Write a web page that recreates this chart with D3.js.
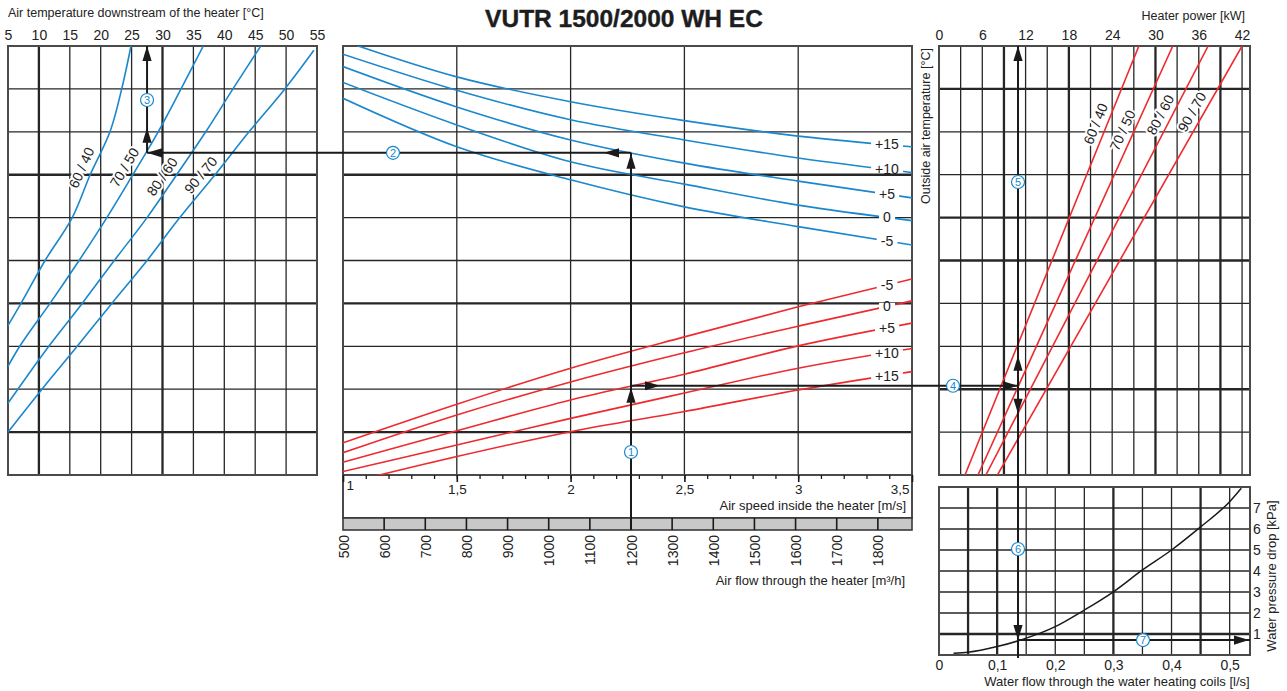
<!DOCTYPE html>
<html><head><meta charset="utf-8">
<script src="https://cdn.jsdelivr.net/npm/d3@7"></script>
<style>
body{margin:0;background:#fff;}
svg{display:block;font-family:"Liberation Sans",Arial,Helvetica,sans-serif;}
</style></head><body>
<svg id="c" width="1287" height="691"></svg>
<script>
// ================= DATA =================
const chartTitle = "VUTR 1500/2000 WH EC";
const outletTempTicks = [5,10,15,20,25,30,35,40,45,50,55];
const powerTicks = [0,6,12,18,24,30,36,42];
const speedTicks = [1,1.5,2,2.5,3,3.5];
const flowTicks = [500,600,700,800,900,1000,1100,1200,1300,1400,1500,1600,1700,1800];
const waterFlowTicks = [0,0.1,0.2,0.3,0.4,0.5];
const pressureTicks = [1,2,3,4,5,6,7];
const waterRegimes = ["60 / 40","70 / 50","80 / 60","90 / 70"];

// Left panel: air temperature downstream [°C] at nomogram levels (grid rows 0..10)
const leftLevels6040 = [10,9,8,7,6,5,4,3];
const leftTemp6040   = [24.9,23.4,21.5,18.3,15.4,11.0,7.1,3.0];
const leftLevels7050 = [10,9,8,7,6,5,4,3,2];
const leftTemp7050   = [36.6,33.0,29.3,25.2,21.0,16.5,11.8,6.9,3.0];
const leftLevels8060 = [10,9,8,7,6,5,4,3,2,1];
const leftTemp8060   = [45.9,41.4,37.0,32.3,27.5,22.2,17.0,11.6,6.6,1.7];
const leftLevels9070 = [9.9,9,8,7,6,5,4,3,2,1];
const leftTemp9070   = [54.5,49.8,44.0,38.5,32.8,27.5,21.8,16.2,10.5,5.0];

// Middle panel: air speed [m/s] vs nomogram level, per outside temperature
const speedPoints = [1,1.5,2,2.5,3,3.5];
const blueOutsideTemps = ["+15","+10","+5","0","-5"];
const blueP15 = [10.12,9.28,8.70,8.26,7.90,7.65];
const blueP10 = [9.81,8.97,8.28,7.81,7.39,7.05];
const blueP5  = [9.52,8.58,7.81,7.27,6.85,6.46];
const blue0   = [9.15,8.16,7.30,6.78,6.29,5.93];
const blueM5  = [8.78,7.65,6.88,6.25,5.79,5.36];
const redOutsideTemps = ["-5","0","+5","+10","+15"];
const redM5  = [0.75,1.65,2.49,3.22,3.92,4.57];
const red0   = [0.52,1.40,2.17,2.85,3.47,4.06];
const redP5  = [0.30,1.03,1.75,2.35,3.01,3.54];
const redP10 = [0.08,0.70,1.32,1.91,2.49,2.95];
const redP15 = [-0.21,0.43,1.01,1.48,1.98,2.41];

// Right panel: heater power [kW] at nomogram levels 0 and 10
const powerLevels = [0,10];
const power6040 = [3.6,27.7];
const power7050 = [5.4,32.4];
const power8060 = [6.5,37.3];
const power9070 = [8.1,42.0];

// Bottom right: water pressure drop [kPa] vs water flow [l/s]
const waterFlow    = [0.025,0.05,0.1,0.14,0.2,0.25,0.3,0.35,0.4,0.45,0.5,0.52];
const pressureDrop = [0.08,0.13,0.40,0.71,1.35,2.14,3.01,4.05,5.0,6.1,7.3,7.94];

// Worked example
const exAirFlow = 1200, exLevelRed = 2.08, exLevelBlue = 7.51, exOutletTemp = 27.5;
const exPower = 10.95, exWaterFlow = 0.136, exPressure = 0.71;

// ================= LAYOUT =================
const svg = d3.select("#c");
const PL={x0:8,x1:317}, PM={x0:343,x1:912}, PR={x0:939,x1:1250};
const yT=46, yB=475;
const PB={x0:939,x1:1250,y0:487,y1:655};
const BLUE="#1b87cc", RED="#ee2a2e", INK="#1a1a1a", GRID="#262626";

const yLev  = d3.scaleLinear([0,10],[yB,yT]);
const xTemp = d3.scaleLinear([5,55],[PL.x0,PL.x1]);
const xSpeed= d3.scaleLinear([1,3.5],[PM.x0,PM.x1]);
const xFlow = d3.scaleLinear([500,1883],[PM.x0,PM.x1]);
const xPow  = d3.scaleLinear([0,43.1],[PR.x0,PR.x1]);
const xWat  = d3.scaleLinear([0,0.535],[PB.x0,PB.x1]);
const yDp   = d3.scaleLinear([0,8],[PB.y1,PB.y0]);
const comma = d => String(d).replace(".",",");

const defs = svg.append("defs");
function clip(id,x0,y0,x1,y1){ defs.append("clipPath").attr("id",id).append("rect").attr("x",x0).attr("y",y0).attr("width",x1-x0).attr("height",y1-y0); }
clip("cl",PL.x0,yT,PL.x1,yB); clip("cm",PM.x0,yT,PM.x1,yB); clip("cr",PR.x0,yT,PR.x1,yB); clip("cb",PB.x0,PB.y0,PB.x1,PB.y1);

const gGrid = svg.append("g");
function vgrid(vals, sc, y0, y1, thick){ vals.forEach(v=>gGrid.append("line").attr("x1",sc(v)).attr("x2",sc(v)).attr("y1",y0).attr("y2",y1).attr("stroke",GRID).attr("stroke-width",thick.includes(v)?2.3:1.3)); }
function hgrid(vals, sc, x0, x1, thick){ vals.forEach(v=>gGrid.append("line").attr("y1",sc(v)).attr("y2",sc(v)).attr("x1",x0).attr("x2",x1).attr("stroke",GRID).attr("stroke-width",thick.includes(v)?2.4:1.3)); }
const levels = d3.range(1,10);
// left
vgrid(outletTempTicks.slice(1,-1), xTemp, yT, yB, [10,30]);
hgrid(levels, yLev, PL.x0, PL.x1, [7,4,1]);
// middle
vgrid(speedTicks.slice(1,-1), xSpeed, yT, yB, []);
hgrid(levels, yLev, PM.x0, PM.x1, [7,4,1]);
// right
const powGrid = d3.range(3,43,3);
vgrid(powGrid, xPow, yT, yB, [9,18,30,39]);
hgrid(levels, yLev, PR.x0, PR.x1, [9,6,5,2]);
// bottom
const watGrid = d3.range(1,11).map(i=>+(i*0.05).toFixed(2));
vgrid(watGrid, xWat, PB.y0, PB.y1, [0.05,0.1,0.3,0.45]);
hgrid(d3.range(1,8), yDp, PB.x0, PB.x1, [1]);

// borders
function border(x0,y0,x1,y1){ gGrid.append("rect").attr("x",x0).attr("y",y0).attr("width",x1-x0).attr("height",y1-y0).attr("fill","none").attr("stroke","#4a4a4a").attr("stroke-width",2); }
border(PL.x0,yT,PL.x1,yB); border(PM.x0,yT,PM.x1,yB); border(PR.x0,yT,PR.x1,yB); border(PB.x0,PB.y0,PB.x1,PB.y1);
// speed / flow axis box
border(PM.x0,yB,PM.x1,518);
gGrid.append("rect").attr("x",PM.x0).attr("y",518).attr("width",PM.x1-PM.x0).attr("height",12).attr("fill","#c8c8c8").attr("stroke","#3a3a3a").attr("stroke-width",1.6);
flowTicks.slice(1).forEach(f=>gGrid.append("line").attr("x1",xFlow(f)).attr("x2",xFlow(f)).attr("y1",518).attr("y2",530).attr("stroke",INK).attr("stroke-width",1.6));

// ================= AXES =================
function styleAxis(g,size){ g.attr("font-family",null).attr("font-size",size); g.select(".domain").remove(); g.selectAll("text").attr("fill","#222"); }
const axL = svg.append("g").attr("transform",`translate(0,${yT-2})`).call(d3.axisTop(xTemp).tickValues(outletTempTicks).tickSize(0).tickPadding(4));
styleAxis(axL,14);
const axP = svg.append("g").attr("transform",`translate(0,${yT-2})`).call(d3.axisTop(xPow).tickValues(powerTicks).tickSize(0).tickPadding(4));
styleAxis(axP,14);
// speed: minor + major
const axSm = svg.append("g").attr("transform",`translate(0,${yB})`).call(d3.axisBottom(xSpeed).tickValues(d3.range(11,35).map(v=>v/10)).tickSize(4).tickFormat(""));
axSm.select(".domain").remove(); axSm.selectAll("line").attr("stroke",INK).attr("stroke-width",1.3);
const axS = svg.append("g").attr("transform",`translate(0,${yB})`).call(d3.axisBottom(xSpeed).tickValues(speedTicks).tickSize(7).tickPadding(2).tickFormat(comma));
styleAxis(axS,13.5); axS.selectAll("line").attr("stroke",INK).attr("stroke-width",1.6);
axS.selectAll(".tick text").filter((d,i)=>i===0).attr("text-anchor","start").attr("x",3).attr("dy","0.45em");
axS.selectAll(".tick text").filter((d,i)=>i===speedTicks.length-1).attr("text-anchor","end").attr("x",-3);
svg.append("text").attr("x",906).attr("y",510).attr("text-anchor","end").attr("font-size",13).attr("fill","#222").text("Air speed inside the heater [m/s]");
// flow
const axF = svg.append("g").attr("transform",`translate(0,530)`).call(d3.axisBottom(xFlow).tickValues(flowTicks).tickSize(0).tickFormat(d3.format("d")));
styleAxis(axF,14);
axF.selectAll(".tick text").attr("transform","rotate(-90)").attr("x",-5).attr("y",0).attr("dy","0.36em").attr("text-anchor","end");
svg.append("text").attr("x",905).attr("y",585).attr("text-anchor","end").attr("font-size",13).attr("fill","#222").text("Air flow through the heater [m³/h]");
// water flow
const axW = svg.append("g").attr("transform",`translate(0,${PB.y1})`).call(d3.axisBottom(xWat).tickValues(waterFlowTicks).tickSize(0).tickPadding(5).tickFormat(comma));
styleAxis(axW,14);
svg.append("text").attr("x",1117).attr("y",686).attr("text-anchor","middle").attr("font-size",13).attr("fill","#222").text("Water flow through the water heating coils [l/s]");
const axD = svg.append("g").attr("transform",`translate(${PB.x1},0)`).call(d3.axisRight(yDp).tickValues(pressureTicks).tickSize(0).tickPadding(3));
styleAxis(axD,14);
svg.append("text").attr("transform",`translate(1276,576) rotate(-90)`).attr("text-anchor","middle").attr("font-size",13).attr("fill","#222").text("Water pressure drop [kPa]");
// titles
svg.append("text").attr("x",624).attr("y",27).attr("text-anchor","middle").attr("font-size",24.5).attr("font-weight","bold").attr("fill","#1d1d1d").attr("stroke","#1d1d1d").attr("stroke-width",0.4).text(chartTitle);
svg.append("text").attr("x",8).attr("y",17).attr("font-size",12.5).attr("fill","#222").text("Air temperature downstream of the heater [°C]");
svg.append("text").attr("x",1245).attr("y",20).attr("text-anchor","end").attr("font-size",12.5).attr("fill","#222").text("Heater power [kW]");
svg.append("text").attr("transform",`translate(930,126) rotate(-90)`).attr("text-anchor","middle").attr("font-size",12.5).attr("fill","#222").text("Outside air temperature [°C]");

// ================= CURVES =================
const zip = (a,b)=>a.map((v,i)=>[v,b[i]]);
const gL = svg.append("g").attr("clip-path","url(#cl)");
const gM = svg.append("g").attr("clip-path","url(#cm)");
const gR = svg.append("g").attr("clip-path","url(#cr)");
const gB = svg.append("g").attr("clip-path","url(#cb)");
const gLab = svg.append("g");

const leftSeries = [zip(leftTemp6040,leftLevels6040), zip(leftTemp7050,leftLevels7050), zip(leftTemp8060,leftLevels8060), zip(leftTemp9070,leftLevels9070)];
const lineLeft = d3.line().x(d=>xTemp(d[0])).y(d=>yLev(d[1])).curve(d3.curveCatmullRom);
const rightSeries = [power6040,power7050,power8060,power9070].map(v=>zip(v,powerLevels));
const lineRight = d3.line().x(d=>xPow(d[0])).y(d=>yLev(d[1]));

// ---- slanted labels (drawn under curves so halos don't cut them) ----
function interp(xs, ys, x){ for(let i=0;i<xs.length-1;i++){ const a=xs[i],b=xs[i+1]; if((x-a)*(x-b)<=0){ const t=(x-a)/(b-a); return ys[i]+t*(ys[i+1]-ys[i]); } } return ys[ys.length-1]; }
function slantLabel(pts, yPix, text){
  const xs=pts.map(p=>p[1]), ys=pts.map(p=>p[0]);
  const x = interp(xs, ys, yPix);
  const x2 = interp(xs, ys, yPix-6), x1 = interp(xs, ys, yPix+6);
  const ang = Math.atan2(-12, x2-x1)*180/Math.PI;
  gGrid.append("text").attr("transform",`translate(${x},${yPix}) rotate(${ang})`).attr("text-anchor","middle").attr("dy","-0.42em")
    .attr("font-size",14).attr("fill","#222").attr("stroke","#fff").attr("stroke-width",4).attr("paint-order","stroke").attr("stroke-linejoin","round").text(text);
}
const leftLabelLevels = [7.06,7.04,6.81,6.83];
leftSeries.forEach((s,i)=>slantLabel(s.map(d=>[xTemp(d[0]),yLev(d[1])]), yLev(leftLabelLevels[i]), waterRegimes[i]));
const rightLabelLevels = [8.09,7.93,8.28,8.34];
rightSeries.forEach((s,i)=>slantLabel(s.map(d=>[xPow(d[0]),yLev(d[1])]), yLev(rightLabelLevels[i]), waterRegimes[i]));

leftSeries.forEach(s=>gL.append("path").attr("d",lineLeft(s)).attr("fill","none").attr("stroke",BLUE).attr("stroke-width",1.6));
rightSeries.forEach(s=>gR.append("path").attr("d",lineRight(s)).attr("fill","none").attr("stroke",RED).attr("stroke-width",1.6));

const lineMid = d3.line().x(d=>xSpeed(d[0])).y(d=>yLev(d[1])).curve(d3.curveMonotoneX);
const blueSeries = [blueP15,blueP10,blueP5,blue0,blueM5].map(v=>zip(speedPoints,v));
const redSeries  = [redM5,red0,redP5,redP10,redP15].map(v=>zip(speedPoints,v));
blueSeries.forEach(s=>gM.append("path").attr("d",lineMid(s)).attr("fill","none").attr("stroke",BLUE).attr("stroke-width",1.6));
redSeries.forEach(s=>gM.append("path").attr("d",lineMid(s)).attr("fill","none").attr("stroke",RED).attr("stroke-width",1.6));

const lineDp = d3.line().x(d=>xWat(d[0])).y(d=>yDp(d[1])).curve(d3.curveMonotoneX);
gB.append("path").attr("d",lineDp(zip(waterFlow,pressureDrop))).attr("fill","none").attr("stroke",INK).attr("stroke-width",1.5);

const midLabelSpeed = 3.39;
function midLabel(vals, text){
  const x = xSpeed(midLabelSpeed), y = yLev(interp(speedPoints, vals, midLabelSpeed));
  const t = gLab.append("text").attr("x",x).attr("y",y).attr("dy","0.36em").attr("text-anchor","middle").attr("font-size",14).attr("fill","#222").text(text);
  const bb = t.node().getBBox();
  gLab.insert("rect","text:last-child").attr("x",bb.x-4).attr("y",y-3.5).attr("width",bb.width+8).attr("height",7).attr("fill","#fff");
  t.raise();
}
[blueP15,blueP10,blueP5,blue0,blueM5].forEach((v,i)=>midLabel(v, blueOutsideTemps[i]));
[redM5,red0,redP5,redP10,redP15].forEach((v,i)=>midLabel(v, redOutsideTemps[i]));

// ================= WORKED EXAMPLE =================
const gEx = svg.append("g");
const xF = xFlow(exAirFlow), yR = yLev(exLevelRed), yBl = yLev(exLevelBlue);
const xT = xTemp(exOutletTemp), xP = xPow(exPower), yP = yDp(exPressure);
function seg(x1,y1,x2,y2){ gEx.append("line").attr("x1",x1).attr("y1",y1).attr("x2",x2).attr("y2",y2).attr("stroke",INK).attr("stroke-width",2); }
function head(x,y,dir){ const L=15,w=4.6; let p;
  if(dir==="up") p=[[x,y],[x-w,y+L],[x+w,y+L]];
  if(dir==="down") p=[[x,y],[x-w,y-L],[x+w,y-L]];
  if(dir==="left") p=[[x,y],[x+L,y-w],[x+L,y+w]];
  if(dir==="right") p=[[x,y],[x-L,y-w],[x-L,y+w]];
  gEx.append("path").attr("d","M"+p.map(q=>q.join(",")).join("L")+"Z").attr("fill",INK);
}
seg(xF,530,xF,yBl); head(xF,yR+2,"up"); head(xF,yBl+1,"up");
seg(xF,yR,xP,yR); head(xF+29,yR,"right"); head(xP,yR,"right");
seg(xF,yBl,xT,yBl); head(xF-27,yBl,"left"); head(xT,yBl,"left");
seg(xT,yBl,xT,yT); head(xT,yBl-25,"up"); head(xT,yT,"up");
seg(xP,yT,xP,PB.y1+3); head(xP,yT,"up"); head(xP,yR-30,"up"); head(xP,yR+28,"down"); head(xP,yP,"down");
seg(xP,yP,PB.x1,yP); head(PB.x1-1,yP,"right");

function marker(x,y,n){
  gEx.append("circle").attr("cx",x).attr("cy",y).attr("r",6.5).attr("fill","#fff").attr("stroke",BLUE).attr("stroke-width",1.2);
  gEx.append("text").attr("x",x).attr("y",y).attr("dy","0.36em").attr("text-anchor","middle").attr("font-size",11).attr("fill",BLUE).text(n);
}
marker(xF,452,1); marker(393,yBl,2); marker(xT,100,3); marker(953,yR,4); marker(xP,182,5); marker(xP,549,6); marker(1143,yP,7);
</script>
</body></html>
